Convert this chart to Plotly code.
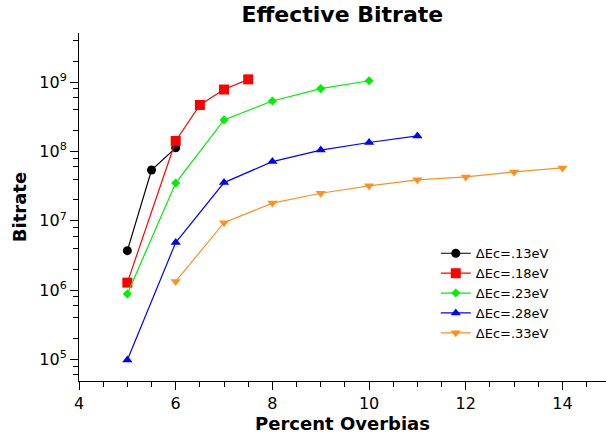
import plotly.graph_objects as go

x13 = [5, 5.5, 6]
y13 = [3.7e6, 5.4e7, 1.13e8]
x18 = [5, 6, 6.5, 7, 7.5]
y18 = [1.28e6, 1.42e8, 4.7e8, 7.85e8, 1.1e9]
x23 = [5, 6, 7, 8, 9, 10]
y23 = [8.8e5, 3.5e7, 2.86e8, 5.37e8, 8.1e8, 1.05e9]
x28 = [5, 6, 7, 8, 9, 10, 11]
y28 = [9.8e4, 4.85e6, 3.56e7, 7.15e7, 1.05e8, 1.35e8, 1.68e8]
x33 = [6, 7, 8, 9, 10, 11, 12, 13, 14]
y33 = [1.33e6, 9.4e6, 1.8e7, 2.5e7, 3.2e7, 3.9e7, 4.3e7, 5.08e7, 5.8e7]

names = ["ΔEc=.13eV", "ΔEc=.18eV", "ΔEc=.23eV", "ΔEc=.28eV", "ΔEc=.33eV"]
colors = ["black", "#ff0000", "#00ee00", "#0000ff", "#ff9020"]
symbols = ["circle", "square", "diamond", "triangle-up", "triangle-down"]
sizes = [9, 10, 7, 9, 9]

ytickvals = [1e5, 1e6, 1e7, 1e8, 1e9]
yticktext = ["10<sup>5</sup>", "10<sup>6</sup>", "10<sup>7</sup>", "10<sup>8</sup>", "10<sup>9</sup>"]
yminor = [m * 10 ** e for e in range(4, 10) for m in (2, 4, 6, 8)]

fig = go.Figure()
for xs, ys, n, c, s, sz in zip([x13, x18, x23, x28, x33], [y13, y18, y23, y28, y33],
                               names, colors, symbols, sizes):
    fig.add_trace(go.Scatter(x=xs, y=ys, name=n, mode="lines+markers",
                             line=dict(color=c, width=1.2),
                             marker=dict(color=c, symbol=s, size=sz)))

fig.update_layout(
    width=606, height=438,
    margin=dict(l=79, r=0, t=33, b=57, autoexpand=False),
    paper_bgcolor="white", plot_bgcolor="white",
    font=dict(family="DejaVu Sans", color="black"),
    title=dict(text="<b>Effective Bitrate</b>", x=0.565, xanchor="center", y=0.968, yanchor="middle",
               font=dict(size=22)),
    legend=dict(x=0.677, y=0.41, xanchor="left", yanchor="top", bgcolor="rgba(0,0,0,0)",
                font=dict(size=13), tracegroupgap=0),
    xaxis=dict(range=[4, 14.9], tickvals=[4, 6, 8, 10, 12, 14], showgrid=False, zeroline=False,
               showline=True, linecolor="black", linewidth=1, ticks="outside", ticklen=8,
               tickcolor="black", tickfont=dict(size=16), automargin=False,
               minor=dict(dtick=0.5, tick0=0, ticks="outside", ticklen=5, tickcolor="black", showgrid=False),
               title=dict(text="<b>Percent Overbias</b>", font=dict(size=18), standoff=0)),
    yaxis=dict(type="log", range=[4.687, 9.711], tickvals=ytickvals, ticktext=yticktext,
               showgrid=False, zeroline=False, showline=True, linecolor="black", linewidth=1,
               ticks="outside", ticklen=8, tickcolor="black", tickfont=dict(size=16), automargin=False,
               minor=dict(tickvals=yminor, ticks="outside", ticklen=5, tickcolor="black", showgrid=False),
               title=dict(text="<b>Bitrate</b>", font=dict(size=18), standoff=8)),
)

fig.write_html("out.html", config={"displayModeBar": False},
               post_script="document.body.style.margin='0';")
